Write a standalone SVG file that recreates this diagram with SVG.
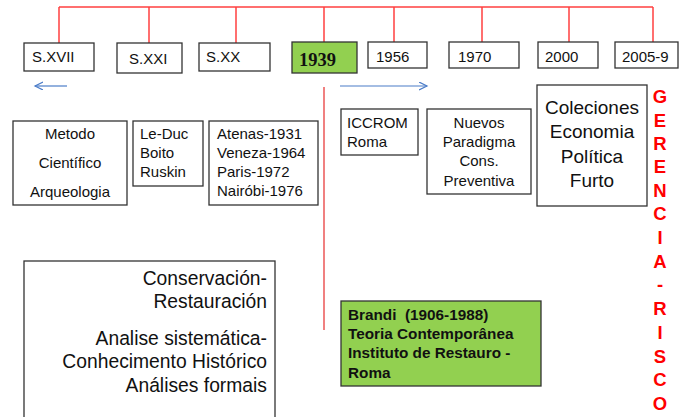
<svg xmlns="http://www.w3.org/2000/svg" width="680" height="417" viewBox="0 0 680 417">
<defs>
<style>
.box{fill:#fff;stroke:#333;stroke-width:1.3}
.green{fill:#92D050;stroke:#333;stroke-width:1.3}
.t{font-family:"Liberation Sans",Arial,sans-serif;font-size:15px;fill:#111}
.c{text-anchor:middle}
.col{font-family:"Liberation Sans",Arial,sans-serif;font-size:19px;fill:#111;text-anchor:middle}
.big{font-family:"Liberation Sans",Arial,sans-serif;font-size:19.3px;fill:#111;text-anchor:end}
.brandi{font-family:"Liberation Sans",Arial,sans-serif;font-size:15.3px;font-weight:bold;fill:#111}
.risk{font-family:"Liberation Sans",Arial,sans-serif;font-size:18.5px;font-weight:bold;fill:#FF0000;text-anchor:middle}
.red{stroke:#FF4040;stroke-width:1.5;fill:none}
.blue{stroke:#4A7CC8;stroke-width:1.2;fill:none}
</style>
<marker id="ah" markerWidth="10" markerHeight="10" refX="8" refY="4" orient="auto" markerUnits="userSpaceOnUse">
<path d="M0,0 L8,4 L0,8" fill="none" stroke="#4A7CC8" stroke-width="1.2"/>
</marker>
</defs>
<rect width="680" height="417" fill="#fff"/>
<g id="connectors">
<path class="red" d="M59,7 H653 M59,7 V43 M149,7 V43 M236,7 V43 M324,7 V42 M394,7 V42 M482,7 V42 M569,7 V42 M653,7 V42"/>
<line x1="324" y1="87" x2="324" y2="330" stroke="#F08080" stroke-width="2"/>
<line class="blue" x1="67" y1="86" x2="35" y2="86" marker-end="url(#ah)"/>
<line class="blue" x1="340" y1="86" x2="427" y2="86" marker-end="url(#ah)"/>
</g>
<g id="sxvii"><rect class="box" x="24" y="43" width="70" height="28"/><text class="t" x="32" y="62">S.XVII</text></g>
<g id="sxxi"><rect class="box" x="117" y="43" width="65" height="30"/><text class="t" x="129" y="64">S.XXI</text></g>
<g id="sxx"><rect class="box" x="199" y="43" width="71" height="28"/><text class="t" x="206" y="62">S.XX</text></g>
<g id="y1939"><rect class="green" x="292" y="42" width="65" height="31"/><text x="299" y="66" font-family="Liberation Serif,'Times New Roman',serif" font-size="18.5" font-weight="bold" fill="#111">1939</text></g>
<g id="y1956"><rect class="box" x="368" y="42" width="59" height="26"/><text class="t" x="376" y="62">1956</text></g>
<g id="y1970"><rect class="box" x="449" y="42" width="70" height="26"/><text class="t" x="458" y="62">1970</text></g>
<g id="y2000"><rect class="box" x="538" y="42" width="60" height="26"/><text class="t" x="545" y="62">2000</text></g>
<g id="y2005"><rect class="box" x="615" y="42" width="63" height="26"/><text class="t" x="622" y="62">2005-9</text></g>
<g id="metodo"><rect class="box" x="13" y="121" width="114" height="84"/>
<text class="t c" x="70" y="139">Metodo</text><text class="t c" x="70" y="168">Científico</text><text class="t c" x="70" y="197">Arqueologia</text></g>
<g id="leduc"><rect class="box" x="133" y="121" width="70" height="65"/>
<text class="t" x="140" y="139">Le-Duc</text><text class="t" x="140" y="158">Boito</text><text class="t" x="140" y="177">Ruskin</text></g>
<g id="cartas"><rect class="box" x="209" y="121" width="109" height="84"/>
<text class="t" x="217" y="139">Atenas-1931</text><text class="t" x="217" y="158">Veneza-1964</text><text class="t" x="217" y="177">Paris-1972</text><text class="t" x="217" y="196">Nairóbi-1976</text></g>
<g id="iccrom"><rect class="box" x="341" y="109" width="77" height="46"/>
<text class="t" x="347" y="128">ICCROM</text><text class="t" x="347" y="147">Roma</text></g>
<g id="nuevos"><rect class="box" x="427" y="109" width="104" height="85"/>
<text class="t c" x="479" y="128">Nuevos</text><text class="t c" x="479" y="147">Paradigma</text><text class="t c" x="479" y="166">Cons.</text><text class="t c" x="479" y="186">Preventiva</text></g>
<g id="coleciones"><rect class="box" x="537" y="85" width="110" height="121"/>
<text class="col" x="592" y="114">Coleciones</text><text class="col" x="592" y="138">Economia</text><text class="col" x="592" y="163">Política</text><text class="col" x="592" y="187">Furto</text></g>
<g id="conservacion"><rect class="box" x="24" y="261" width="251" height="170"/>
<text class="big" x="267" y="285">Conservación-</text>
<text class="big" x="267" y="308">Restauración</text>
<text class="big" x="267" y="345">Analise sistemática-</text>
<text class="big" x="267" y="368">Conhecimento Histórico</text>
<text class="big" x="267" y="392">Análises formais</text></g>
<g id="brandi"><rect class="green" x="341" y="301" width="200" height="85"/>
<text class="brandi" x="348" y="320" xml:space="preserve">Brandi  (1906-1988)</text>
<text class="brandi" x="348" y="339">Teoria Contemporânea</text>
<text class="brandi" x="348" y="358">Instituto de Restauro -</text>
<text class="brandi" x="348" y="378">Roma</text></g>
<g id="gerencia">
<text class="risk" x="660" y="103">G</text>
<text class="risk" x="660" y="127">E</text>
<text class="risk" x="660" y="150">R</text>
<text class="risk" x="660" y="173">E</text>
<text class="risk" x="660" y="197">N</text>
<text class="risk" x="660" y="220">C</text>
<text class="risk" x="660" y="244">I</text>
<text class="risk" x="660" y="268">A</text>
<text class="risk" x="660" y="291">-</text>
<text class="risk" x="660" y="315">R</text>
<text class="risk" x="660" y="339">I</text>
<text class="risk" x="660" y="363">S</text>
<text class="risk" x="660" y="386">C</text>
<text class="risk" x="660" y="410">O</text>
</g>
</svg>
